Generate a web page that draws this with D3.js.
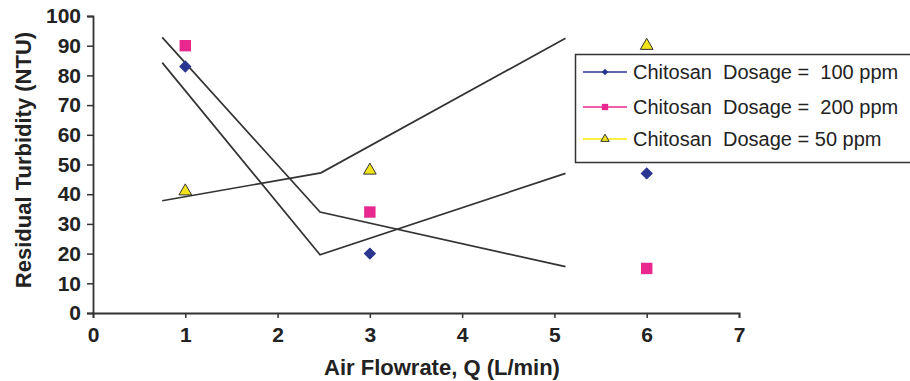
<!DOCTYPE html>
<html>
<head>
<meta charset="utf-8">
<script src="https://cdn.jsdelivr.net/npm/d3@7"></script>
<style>
  body { margin: 0; background: #fff; }
  svg { display: block; font-family: "Liberation Sans", Arial, sans-serif; }
</style>
</head>
<body>
<div id="chart"></div>
<script>
// measured points
const flowrates = [1, 3, 6];
const dose100 = [83, 20, 47];
const dose200 = [90, 34, 15];
const dose50 = [41, 48, 90];

// piecewise trend lines drawn over the points
const trend100 = [[0.75, 84.3], [2.46, 19.6], [5.12, 47]];
const trend200 = [[0.75, 92.8], [2.46, 34], [5.12, 15.6]];
const trend50 = [[0.75, 37.8], [2.47, 47.2], [5.12, 92.5]];

const xTicks = [0, 1, 2, 3, 4, 5, 6, 7];
const yTicks = [0, 10, 20, 30, 40, 50, 60, 70, 80, 90, 100];
const legendLabels = ["Chitosan  Dosage =  100 ppm", "Chitosan  Dosage =  200 ppm", "Chitosan  Dosage = 50 ppm"];

const width = 910, height = 381;
const margin = { top: 16, right: 171, bottom: 68, left: 93 };

const svg = d3.select("#chart").append("svg")
    .attr("width", width)
    .attr("height", height);

const x = d3.scaleLinear().domain([0, 7]).range([margin.left, width - margin.right]);
const y = d3.scaleLinear().domain([0, 100]).range([height - margin.bottom, margin.top]);

// axes
const xAxis = svg.append("g")
    .attr("transform", `translate(0,${y(0)})`)
    .call(d3.axisBottom(x).tickValues(xTicks).tickFormat(d3.format("d"))
        .tickSize(5).tickPadding(9).tickSizeOuter(5));
const yAxis = svg.append("g")
    .attr("transform", `translate(${x(0)},0)`)
    .call(d3.axisLeft(y).tickValues(yTicks).tickFormat(d3.format("d"))
        .tickSize(6).tickPadding(6).tickSizeOuter(6));

[xAxis, yAxis].forEach(a => {
    a.select(".domain").attr("stroke", "#333").attr("stroke-width", 1.8);
    a.selectAll(".tick line").attr("stroke", "#333").attr("stroke-width", 1.5);
    a.selectAll(".tick text")
        .attr("fill", "#222")
        .style("font-size", "21px")
        .style("font-weight", "bold");
});

svg.append("text")
    .attr("x", 442).attr("y", 375)
    .attr("text-anchor", "middle")
    .attr("fill", "#222")
    .style("font-size", "22px").style("font-weight", "bold")
    .text("Air Flowrate, Q (L/min)");

svg.append("text")
    .attr("transform", "translate(31,160) rotate(-90)")
    .attr("text-anchor", "middle")
    .attr("fill", "#222")
    .style("font-size", "22px").style("font-weight", "bold")
    .text("Residual Turbidity (NTU)");

// trend lines
const line = d3.line().x(d => x(d[0])).y(d => y(d[1]));
[trend100, trend200, trend50].forEach(t => {
    svg.append("path")
        .attr("d", line(t))
        .attr("fill", "none")
        .attr("stroke", "#333")
        .attr("stroke-width", 1.7);
});

// markers
const diamond = d3.symbol().type(d3.symbolSquare).size(60);
const square = d3.symbol().type(d3.symbolSquare).size(130);
const triangle = d3.symbol().type(d3.symbolTriangle).size(70);

const series = [
    { vals: dose100, sym: diamond, rot: 45, fill: "#2b3590", stroke: "#2b3590" },
    { vals: dose200, sym: square, rot: 0, fill: "#e8288e", stroke: "none" },
    { vals: dose50, sym: triangle, rot: 0, fill: "#f2e21a", stroke: "#333" }
];

series.forEach(s => {
    svg.append("g").selectAll("path")
        .data(s.vals)
        .enter()
        .append("path")
        .attr("transform", (d, i) => `translate(${x(flowrates[i])},${y(d)}) rotate(${s.rot})`)
        .attr("d", s.sym)
        .attr("fill", s.fill)
        .attr("stroke", s.stroke)
        .attr("stroke-width", 1);
});

// legend
const legend = svg.append("g");
legend.append("rect")
    .attr("x", 575.5).attr("y", 54.5)
    .attr("width", 345).attr("height", 108)
    .attr("fill", "#fff")
    .attr("stroke", "#333").attr("stroke-width", 1.5);

const legendColors = ["#2b3590", "#e8288e", "#f5f000"];
const legendSyms = [
    d3.symbol().type(d3.symbolSquare).size(22),
    d3.symbol().type(d3.symbolSquare).size(40),
    d3.symbol().type(d3.symbolTriangle).size(30)
];
const rowY = [72, 107, 139];

legendLabels.forEach((lab, i) => {
    const g = legend.append("g").attr("transform", `translate(0,${rowY[i]})`);
    g.append("line")
        .attr("x1", 583).attr("x2", 627)
        .attr("stroke", legendColors[i]).attr("stroke-width", 1.5);
    g.append("path")
        .attr("transform", `translate(605,0) rotate(${i === 0 ? 45 : 0})`)
        .attr("d", legendSyms[i])
        .attr("fill", i === 2 ? "#f2e21a" : legendColors[i])
        .attr("stroke", i === 2 ? "#333" : "none");
    g.append("text")
        .attr("x", 633).attr("y", 7)
        .attr("fill", "#222")
        .style("font-size", "20px")
        .style("white-space", "pre")
        .text(lab);
});
</script>
</body>
</html>
